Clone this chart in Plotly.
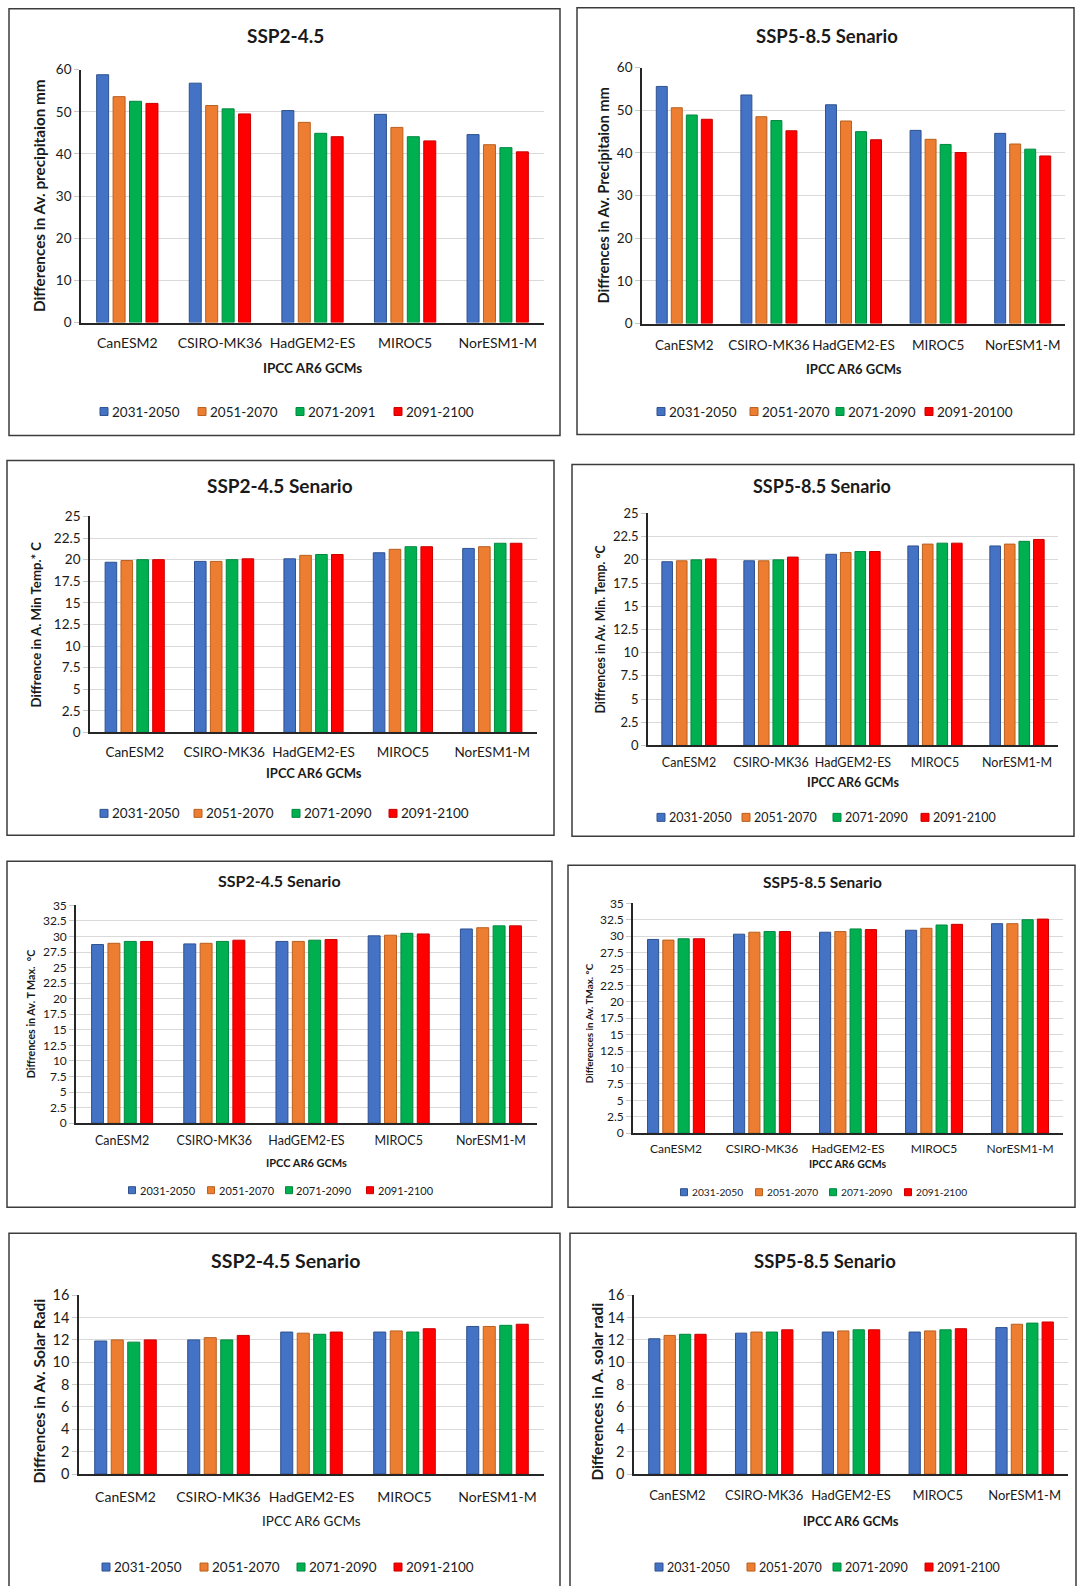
import plotly.graph_objects as go

W, H = 1081, 1586

# ---------------- data ----------------
models = ["CanESM2", "CSIRO-MK36", "HadGEM2-ES", "MIROC5", "NorESM1-M"]

periods_a = ["2031-2050", "2051-2070", "2071-2091", "2091-2100"]
periods_b = ["2031-2050", "2051-2070", "2071-2090", "2091-20100"]
periods_c = ["2031-2050", "2051-2070", "2071-2090", "2091-2100"]

# one list per period, values in model order
precip_ssp245 = [
    [58.8, 56.8, 50.3, 49.4, 44.6],
    [53.6, 51.5, 47.5, 46.3, 42.2],
    [52.5, 50.7, 44.9, 44.1, 41.5],
    [52.0, 49.5, 44.1, 43.1, 40.5],
]
precip_ssp585 = [
    [55.6, 53.6, 51.3, 45.3, 44.6],
    [50.6, 48.5, 47.5, 43.2, 42.1],
    [48.9, 47.6, 45.0, 42.0, 40.9],
    [47.9, 45.2, 43.1, 40.1, 39.3],
]
tmin_ssp245 = [
    [19.7, 19.8, 20.1, 20.8, 21.3],
    [19.9, 19.8, 20.5, 21.2, 21.5],
    [20.0, 20.0, 20.6, 21.5, 21.9],
    [20.0, 20.1, 20.6, 21.5, 21.9],
]
tmin_ssp585 = [
    [19.8, 19.9, 20.6, 21.5, 21.5],
    [19.9, 19.9, 20.8, 21.7, 21.7],
    [20.0, 20.0, 20.9, 21.8, 22.0],
    [20.1, 20.3, 20.9, 21.8, 22.2],
]
tmax_ssp245 = [
    [28.7, 28.8, 29.2, 30.1, 31.2],
    [28.9, 28.9, 29.2, 30.2, 31.4],
    [29.2, 29.2, 29.4, 30.5, 31.7],
    [29.2, 29.4, 29.5, 30.4, 31.7],
]
tmax_ssp585 = [
    [29.5, 30.3, 30.6, 30.9, 31.9],
    [29.4, 30.6, 30.7, 31.2, 31.9],
    [29.6, 30.7, 31.1, 31.7, 32.5],
    [29.6, 30.7, 31.0, 31.8, 32.6],
]
solar_ssp245 = [
    [11.9, 12.0, 12.7, 12.7, 13.2],
    [12.0, 12.2, 12.6, 12.8, 13.2],
    [11.8, 12.0, 12.5, 12.7, 13.3],
    [12.0, 12.4, 12.7, 13.0, 13.4],
]
solar_ssp585 = [
    [12.1, 12.6, 12.7, 12.7, 13.1],
    [12.4, 12.7, 12.8, 12.8, 13.4],
    [12.5, 12.7, 12.9, 12.9, 13.5],
    [12.5, 12.9, 12.9, 13.0, 13.6],
]

titles = ["SSP2-4.5", "SSP5-8.5 Senario",
          "SSP2-4.5 Senario", "SSP5-8.5 Senario",
          "SSP2-4.5 Senario", "SSP5-8.5 Senario",
          "SSP2-4.5 Senario", "SSP5-8.5 Senario"]
y_titles = ["Differences in Av. precipitaion mm",
            "Diffrences in Av. Precipitaion mm",
            "Diffrence in A. Min Temp.* C",
            "Diffrences in Av. Min. Temp. \u00b0C",
            "Diffrences in Av. T Max.  \u00b0C",
            "Differences in Av. TMax. \u00b0C",
            "Diffrences in Av. Solar Radi",
            "Differences in A. solar radi"]
x_title = "IPCC AR6 GCMs"
datasets = [precip_ssp245, precip_ssp585, tmin_ssp245, tmin_ssp585,
            tmax_ssp245, tmax_ssp585, solar_ssp245, solar_ssp585]
period_sets = [periods_a, periods_b, periods_c, periods_c,
               periods_c, periods_c, periods_c, periods_c]
y_max = [60, 60, 25, 25, 35, 35, 16, 16]
y_dtick = [10, 10, 2.5, 2.5, 2.5, 2.5, 2, 2]

# ---------------- styles / positions (pixels on the page) ----------------
colors = ["#4472C4", "#ED7D31", "#00B050", "#FF0000"]
edge_colors = ["#2F528F", "#B8601F", "#00883F", "#C80000"]
FONT = "Lato, Carlito, Calibri, sans-serif"
TXT = "#1a1a1a"

specs = [
    dict(box=(9, 8, 560, 435), plot=(81, 69, 544, 322), title=(285, 35, 19), ytx=39, ytdy=0,
         caty=340, xty=367, xtbold=True, leg=[104, 202, 300, 398], legy=411,
         fs_tick=13.5, fs_cat=14, fs_yt=15.3, fs_xt=13.5, fs_leg=13.5, sq=8),
    dict(box=(577, 7, 1074, 434), plot=(642, 67, 1065, 323), title=(827, 35, 18.5), ytx=603, ytdy=0,
         caty=342, xty=368, xtbold=True, leg=[661, 754, 840, 929], legy=411,
         fs_tick=13.5, fs_cat=13.5, fs_yt=14.7, fs_xt=13, fs_leg=13.5, sq=8),
    dict(box=(7, 460, 554, 835), plot=(90, 516, 537, 732), title=(280, 485, 19), ytx=36, ytdy=0,
         caty=750, xty=773, xtbold=True, leg=[104, 198, 296, 393], legy=813,
         fs_tick=13.5, fs_cat=13.5, fs_yt=13.2, fs_xt=13, fs_leg=13.5, sq=8),
    dict(box=(572, 464, 1074, 836), plot=(648, 513, 1058, 745), title=(822, 486, 18), ytx=600, ytdy=0,
         caty=760, xty=782, xtbold=True, leg=[661, 746, 837, 925], legy=817,
         fs_tick=13, fs_cat=12.5, fs_yt=12.3, fs_xt=12.5, fs_leg=12.5, sq=8),
    dict(box=(7, 861, 552, 1207), plot=(76, 905, 537, 1123), title=(279, 880, 16), ytx=30, ytdy=0,
         caty=1138, xty=1162, xtbold=True, leg=[132, 211, 289, 370], legy=1190,
         fs_tick=12, fs_cat=12.5, fs_yt=10.7, fs_xt=11, fs_leg=11, sq=7),
    dict(box=(568, 865, 1075, 1207), plot=(633, 903, 1063, 1133), title=(822, 882, 15.5), ytx=589, ytdy=5,
         caty=1147, xty=1164, xtbold=True, leg=[684, 759, 833, 908], legy=1192,
         fs_tick=12, fs_cat=12, fs_yt=9.9, fs_xt=10.5, fs_leg=10.2, sq=7),
    dict(box=(9, 1233, 560, 1600), plot=(79, 1295, 544, 1474), title=(285, 1260, 19.5), ytx=39, ytdy=7,
         caty=1494, xty=1521, xtbold=False, leg=[106, 204, 301, 398], legy=1567,
         fs_tick=14.5, fs_cat=14, fs_yt=15.5, fs_xt=13.5, fs_leg=13.5, sq=8),
    dict(box=(570, 1233, 1076, 1600), plot=(634, 1295, 1068, 1474), title=(825, 1261, 18.5), ytx=597, ytdy=7,
         caty=1494, xty=1521, xtbold=True, leg=[659, 751, 837, 929], legy=1567,
         fs_tick=14.5, fs_cat=13, fs_yt=15.3, fs_xt=13, fs_leg=12.5, sq=8),
]

# measured page offset/scale of the rendered figure (vertical)
V_OFF, V_SCALE = 8.3, 0.9897


def px(x):
    return x / W


def fy(y):
    """page pixel -> figure pixel (vertical)"""
    return (y - V_OFF) / V_SCALE


def py(y):
    return 1 - fy(y) / H


fig = go.Figure()
layout = dict(
    width=W, height=H, autosize=False,
    margin=dict(l=0, r=0, t=0, b=0),
    paper_bgcolor="white", plot_bgcolor="white",
    barmode="group", bargap=0.29, bargroupgap=0.27,
    showlegend=False,
    font=dict(family=FONT, color=TXT),
)
annotations = []
shapes = []

for i, (data, periods, S) in enumerate(zip(datasets, period_sets, specs)):
    n = i + 1
    sfx = "" if n == 1 else str(n)
    xref, yref = "x" + sfx, "y" + sfx
    for k in range(4):
        fig.add_trace(go.Bar(
            x=models, y=data[k], name=periods[k],
            marker=dict(color=colors[k], line=dict(color=edge_colors[k], width=1)),
            xaxis=xref, yaxis=yref, showlegend=False,
        ))
    x0, y0, x1, y1 = S["plot"]
    cat_standoff = int(round(max(0, fy(S["caty"]) - fy(y1) - 0.6 * S["fs_cat"] - 3)))
    layout["xaxis" + sfx] = dict(
        domain=[px(x0), px(x1)], anchor=yref,
        showline=True, linecolor="#262626", linewidth=1.6,
        showgrid=False, zeroline=False, ticks="",
        tickfont=dict(size=S["fs_cat"], family=FONT, color=TXT),
        ticklabelstandoff=cat_standoff, fixedrange=True,
    )
    layout["yaxis" + sfx] = dict(
        domain=[py(y1), py(y0)], anchor=xref,
        range=[0, y_max[i]], dtick=y_dtick[i], tick0=0,
        showline=True, linecolor="#262626", linewidth=1.6,
        showgrid=True, gridcolor="#D9D9D9", gridwidth=1.3,
        zeroline=False, ticks="outside", ticklen=5, tickcolor="#C8C8C8",
        tickfont=dict(size=S["fs_tick"], family=FONT, color=TXT),
        fixedrange=True,
    )
    # panel frame
    bx0, by0, bx1, by1 = S["box"]
    shapes.append(dict(type="rect", xref="paper", yref="paper",
                       x0=px(bx0), x1=px(bx1), y0=py(by1), y1=py(by0),
                       line=dict(color="#3c3c3c", width=1.5), fillcolor="rgba(0,0,0,0)"))
    # title
    tx, ty, tfs = S["title"]
    annotations.append(dict(xref="paper", yref="paper", x=px(tx), y=py(ty),
                            xanchor="center", yanchor="middle", showarrow=False,
                            text="<b>" + titles[i] + "</b>",
                            font=dict(size=tfs, family=FONT, color=TXT)))
    # y title
    annotations.append(dict(xref="paper", yref="paper", x=px(S["ytx"]),
                            y=py((y0 + y1) / 2 + S["ytdy"]),
                            xanchor="center", yanchor="middle", showarrow=False, textangle=-90,
                            text="<b>" + y_titles[i] + "</b>",
                            font=dict(size=S["fs_yt"], family=FONT, color=TXT)))
    # x title
    xt = "<b>" + x_title + "</b>" if S["xtbold"] else x_title
    annotations.append(dict(xref="paper", yref="paper", x=px((x0 + x1) / 2), y=py(S["xty"]),
                            xanchor="center", yanchor="middle", showarrow=False,
                            text=xt, font=dict(size=S["fs_xt"], family=FONT, color=TXT)))
    # legend
    sq = S["sq"]
    ly = S["legy"]
    for k in range(4):
        sx = S["leg"][k]
        shapes.append(dict(type="rect", xref="paper", yref="paper",
                           x0=px(sx - sq / 2), x1=px(sx + sq / 2),
                           y0=py(ly + sq / 2), y1=py(ly - sq / 2),
                           line=dict(color=edge_colors[k], width=1), fillcolor=colors[k]))
        annotations.append(dict(xref="paper", yref="paper", x=px(sx + sq / 2 + 2), y=py(ly),
                                xanchor="left", yanchor="middle", showarrow=False,
                                text=periods[k],
                                font=dict(size=S["fs_leg"], family=FONT, color=TXT)))

layout["annotations"] = annotations
layout["shapes"] = shapes
fig.update_layout(**layout)
fig.write_html("out.html")
